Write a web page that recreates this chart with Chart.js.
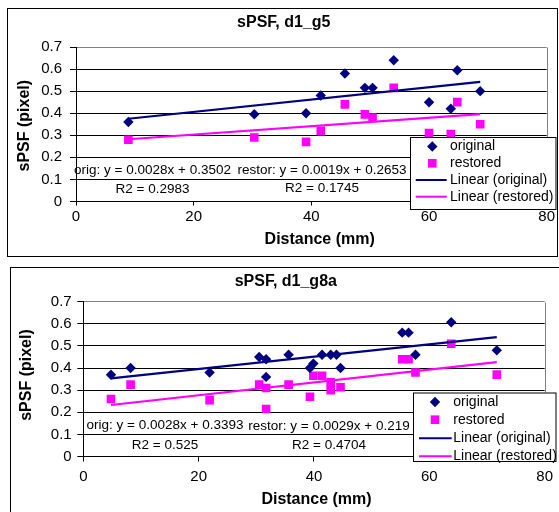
<!DOCTYPE html>
<html><head><meta charset="utf-8">
<script src="https://cdn.jsdelivr.net/npm/chart.js@4.4.1/dist/chart.umd.min.js"></script>
<style>
html,body{margin:0;padding:0;background:#fff;width:559px;height:512px;overflow:hidden}
canvas{position:absolute;left:0}
#c1{top:0}
#c2{top:260px}
</style></head><body>
<canvas id="c1" width="559" height="260"></canvas>
<canvas id="c2" width="559" height="252"></canvas>
<script>
// ---- shared tick labels ----
const xTickLabels = ['0', '20', '40', '60', '80'];
const yTickLabels = ['0', '0.1', '0.2', '0.3', '0.4', '0.5', '0.6', '0.7'];
const seriesLabels = ['original', 'restored', 'Linear (original)', 'Linear (restored)'];

// ---- chart 1: sPSF, d1_g5 ----
const g5Distance = [8.9, 30.3, 39.1, 41.6, 45.7, 49.1, 50.4, 54.0, 60.0, 63.7, 64.8, 68.7];
const g5Original = [0.36, 0.395, 0.40, 0.48, 0.58, 0.515, 0.515, 0.64, 0.45, 0.42, 0.595, 0.50];
const g5Restored = [0.28, 0.29, 0.27, 0.32, 0.44, 0.395, 0.38, 0.515, 0.31, 0.305, 0.45, 0.35];
const g5TrendX = [8.9, 68.7];
const g5TrendOriginal = [0.375, 0.542];
const g5TrendRestored = [0.282, 0.396];
const g5EquationLabels = [['orig: y = 0.0028x + 0.3502', 'R2 = 0.2983'], ['restor: y = 0.0019x + 0.2653', 'R2 = 0.1745']];

// ---- chart 2: sPSF, d1_g8a ----
const g8aDistanceOrig = [4.8, 8.2, 21.9, 30.5, 31.7, 31.7, 35.6, 39.3, 39.9, 41.4, 42.9, 43.9, 44.6, 55.3, 56.4, 57.6, 63.8, 71.7];
const g8aOriginal = [0.37, 0.40, 0.38, 0.45, 0.44, 0.36, 0.46, 0.40, 0.42, 0.46, 0.46, 0.46, 0.40, 0.56, 0.56, 0.46, 0.607, 0.48];
const g8aDistanceRest = [4.8, 8.2, 21.9, 30.5, 31.7, 31.7, 35.6, 39.3, 39.9, 41.4, 42.9, 42.9, 44.6, 55.3, 56.4, 57.6, 63.8, 71.7];
const g8aRestored = [0.26, 0.325, 0.255, 0.325, 0.31, 0.215, 0.325, 0.27, 0.365, 0.365, 0.335, 0.30, 0.313, 0.44, 0.44, 0.38, 0.51, 0.37];
const g8aTrendX = [4.8, 71.7];
const g8aTrendOriginal = [0.353, 0.540];
const g8aTrendRestored = [0.233, 0.427];
const g8aEquationLabels = [['orig: y = 0.0028x + 0.3393', 'R2 = 0.525'], ['restor: y = 0.0029x + 0.219', 'R2 = 0.4704']];

const FONT = "'Liberation Sans', Arial, Helvetica, sans-serif";
const NAVY = '#000080';
const MAGENTA = '#FF00FF';

function pts(xs, ys) { return xs.map((x, i) => ({x: x, y: ys[i]})); }

const decorPlugin = {
  id: 'excelDecor',
  beforeDatasetsDraw(chart) {
    const ca = chart.chartArea, ctx = chart.ctx;
    ctx.save();
    ctx.strokeStyle = '#808080';
    ctx.lineWidth = 1;
    ctx.beginPath();
    const rx = Math.round(ca.right) + 0.5;
    ctx.moveTo(rx, Math.round(ca.top) + 0.5);
    ctx.lineTo(rx, Math.round(ca.bottom));
    ctx.stroke();
    ctx.restore();
  },
  afterDraw(chart, args, o) {
    const ctx = chart.ctx;
    ctx.save();
    ctx.fillStyle = '#000';
    ctx.textBaseline = 'middle';
    // equation labels
    ctx.font = '13.5px ' + FONT;
    ctx.textAlign = 'center';
    o.eq.forEach((lines, k) => {
      const p = o.eqPos[k];
      ctx.fillText(lines[0], p.x, p.y1);
      ctx.fillText(lines[1], p.x, p.y2);
    });
    // legend
    const L = o.legend;
    ctx.fillStyle = '#fff';
    ctx.fillRect(L.x, L.y, L.w, L.h);
    ctx.strokeStyle = '#000';
    ctx.lineWidth = 1;
    ctx.strokeRect(L.x + 0.5, L.y + 0.5, L.w - 1, L.h - 1);
    ctx.font = '14px ' + FONT;
    ctx.textAlign = 'left';
    chart.data.datasets.forEach((ds, i) => {
      const y = L.rows[i];
      if (ds.showLine) {
        ctx.strokeStyle = ds.borderColor;
        ctx.lineWidth = 2;
        ctx.beginPath();
        ctx.moveTo(L.lineX0, y);
        ctx.lineTo(L.lineX1, y);
        ctx.stroke();
      } else {
        ctx.fillStyle = ds.backgroundColor;
        Chart.helpers.drawPoint(ctx, {pointStyle: ds.pointStyle, radius: ds.pointRadius, rotation: 0, borderWidth: 0}, L.markerX, y);
      }
      ctx.fillStyle = '#000';
      ctx.fillText(ds.label, L.textX, y);
    });
    // titles
    ctx.font = 'bold 16px ' + FONT;
    ctx.textAlign = 'center';
    ctx.fillStyle = '#000';
    ctx.fillText(o.title, o.titlePos.x, o.titlePos.y);
    ctx.fillText(o.xTitle, o.xTitlePos.x, o.xTitlePos.y);
    ctx.save();
    ctx.translate(o.yTitlePos.x, o.yTitlePos.y);
    ctx.rotate(-Math.PI / 2);
    ctx.fillText(o.yTitle, 0, 0);
    ctx.restore();
    // outer box
    ctx.strokeStyle = '#000';
    ctx.lineWidth = 1;
    ctx.strokeRect(o.box.x, o.box.y, o.box.w, o.box.h);
    ctx.restore();
  }
};

function makeChart(id, c) {
  return new Chart(document.getElementById(id), {
    type: 'scatter',
    data: {
      datasets: [
        {label: seriesLabels[0], data: pts(c.origX, c.orig), pointStyle: 'rectRot', pointRadius: 5.2,
         backgroundColor: NAVY, borderColor: NAVY, pointBorderWidth: 0, order: 2},
        {label: seriesLabels[1], data: pts(c.restX, c.rest), pointStyle: 'rect', pointRadius: 6.1,
         backgroundColor: MAGENTA, borderColor: MAGENTA, pointBorderWidth: 0, order: 3},
        {label: seriesLabels[2], data: pts(c.trendX, c.trendOrig), showLine: true, borderColor: NAVY,
         backgroundColor: NAVY, borderWidth: 2.2, pointRadius: 0, order: 1},
        {label: seriesLabels[3], data: pts(c.trendX, c.trendRest), showLine: true, borderColor: MAGENTA,
         backgroundColor: MAGENTA, borderWidth: 2.2, pointRadius: 0, order: 1}
      ]
    },
    options: {
      responsive: false,
      animation: false,
      devicePixelRatio: 1,
      layout: {padding: c.padding},
      plugins: {
        legend: {display: false},
        title: {display: false},
        tooltip: {enabled: false},
        excelDecor: c.decor
      },
      scales: {
        x: {
          type: 'linear', min: 0, max: 80,
          ticks: {stepSize: 20, color: '#000', font: {family: FONT, size: 15}, padding: c.xTickPad,
                  maxRotation: 0, callback: (v) => xTickLabels[Math.round(v / 20)]},
          grid: {drawOnChartArea: false, drawTicks: true, tickLength: c.xTickLen, tickColor: '#000', color: '#000'},
          border: {display: true, color: '#000', width: 1},
          afterFit: (s) => { s.height = c.xH; }
        },
        y: {
          type: 'linear', min: 0, max: 0.7,
          ticks: {stepSize: 0.1, color: '#000', font: {family: FONT, size: 15}, padding: c.yTickPad,
                  callback: (v) => yTickLabels[Math.round(v * 10)]},
          grid: {color: (ctx) => (ctx.tick && Math.round(ctx.tick.value * 10) === 7) ? '#808080' : '#000',
                 tickColor: '#000', tickLength: 6, lineWidth: 1},
          border: {display: true, color: '#000', width: 1},
          afterFit: (s) => { s.width = c.yW; }
        }
      }
    },
    plugins: [decorPlugin]
  });
}

makeChart('c1', {
  origX: g5Distance, orig: g5Original, restX: g5Distance, rest: g5Restored,
  trendX: g5TrendX, trendOrig: g5TrendOriginal, trendRest: g5TrendRestored,
  padding: {left: 0, right: 12.3, top: 47, bottom: 18.5},
  xH: 40, yW: 76, xTickLen: 4, xTickPad: 2, yTickPad: 8,
  decor: {
    title: 'sPSF, d1_g5', titlePos: {x: 283.8, y: 22.5},
    xTitle: 'Distance (mm)', xTitlePos: {x: 319.7, y: 240},
    yTitle: 'sPSF (pixel)', yTitlePos: {x: 25, y: 125.7},
    box: {x: 7.5, y: 8.5, w: 550, h: 248},
    eq: g5EquationLabels,
    eqPos: [{x: 152.5, y1: 170, y2: 189}, {x: 322, y1: 170, y2: 188.5}],
    legend: {x: 410, y: 137, w: 146.5, h: 73, rows: [146.5, 163.3, 180, 196.7],
             markerX: 432.3, textX: 450, lineX0: 415.7, lineX1: 446.7}
  }
});

makeChart('c2', {
  origX: g8aDistanceOrig, orig: g8aOriginal, restX: g8aDistanceRest, rest: g8aRestored,
  trendX: g8aTrendX, trendOrig: g8aTrendOriginal, trendRest: g8aTrendRestored,
  padding: {left: 0, right: 9, top: 41.7, bottom: 15.5},
  xH: 40, yW: 83.3, xTickLen: 5, xTickPad: 6, yTickPad: 5.6,
  decor: {
    title: 'sPSF, d1_g8a', titlePos: {x: 285.8, y: 21.7},
    xTitle: 'Distance (mm)', xTitlePos: {x: 316.5, y: 240},
    yTitle: 'sPSF (pixel)', yTitlePos: {x: 26.7, y: 115},
    box: {x: 10.5, y: 7.5, w: 560, h: 260},
    eq: g8aEquationLabels,
    eqPos: [{x: 165, y1: 165, y2: 185}, {x: 329, y1: 166.7, y2: 185}],
    legend: {x: 413, y: 132.5, w: 143.5, h: 69.5, rows: [142, 159.7, 178.3, 196.3],
             markerX: 435, textX: 453.3, lineX0: 419, lineX1: 451.7}
  }
});
</script>
</body></html>
